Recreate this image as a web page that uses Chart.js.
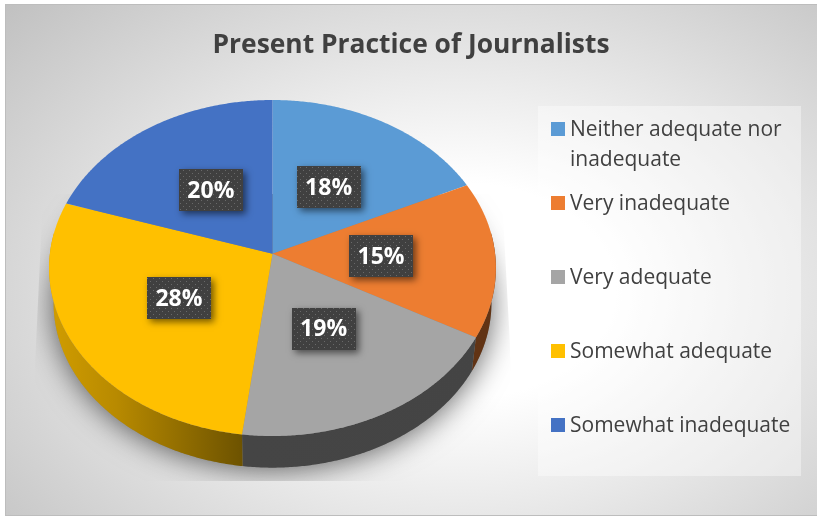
<!DOCTYPE html>
<html>
<head>
<meta charset="utf-8">
<title>Present Practice of Journalists</title>
<script src="https://cdn.jsdelivr.net/npm/chart.js@4"></script>
<style>
  html, body { margin: 0; padding: 0; background: #fff; }
  #card {
    position: absolute; left: 5px; top: 4px; width: 812px; height: 512px;
    box-sizing: border-box; overflow: hidden;
    border-left: 1.5px solid #bdbdbd; border-top: 1.5px solid #bdbdbd; border-bottom: 1.5px solid #bdbdbd;
    background: radial-gradient(ellipse 80% 88% at 56% 56%, #ffffff 0%, #ffffff 24%, #bcbcbc 100%);
  }
  canvas { position: absolute; left: -1.5px; top: -1.5px; }
</style>
</head>
<body>
<div id="card"><canvas id="chart" width="812" height="512"></canvas></div>
<script>
const titleText = 'Present Practice of Journalists';
const categories = ['Neither adequate nor inadequate', 'Very inadequate', 'Very adequate', 'Somewhat adequate', 'Somewhat inadequate'];
const shares = [18, 15, 19, 28, 20];
const sliceColors = ['#5B9BD5', '#ED7D31', '#A5A5A5', '#FFC000', '#4472C4'];

const FONT = '"Open Sans", sans-serif';
const INK = '#404040';

// Tilted-disc projection: the flat pie circle is seen from above, in perspective.
const flatten = 0.752;      // vertical squash of the top face
const tilt = -0.085;        // how far the hub sits above the centre of the ellipse
const faceCentreX = 267.5;  // canvas x of the centre of the top-face ellipse
const faceCentreY = 264;    // canvas y of the centre of the top-face ellipse
const wallDrop = 35;        // height of the rim wall
const wallShrink = 0.98;    // the lower rim is slightly further from the viewer

function project(el, angle, frac) {
  const u = Math.cos(angle) * frac, v = Math.sin(angle) * frac;
  const d = 1 + tilt * v;
  const R = el.outerRadius;
  return {
    x: faceCentreX + R * u * Math.sqrt(1 - tilt * tilt) / d,
    y: faceCentreY + R * flatten * (v + tilt) / d
  };
}
function lowerRim(p) {
  return { x: faceCentreX + (p.x - faceCentreX) * wallShrink, y: faceCentreY + (p.y - faceCentreY) * wallShrink + wallDrop };
}
function shade(hex, k) {
  const n = parseInt(hex.slice(1), 16);
  return `rgb(${Math.round((n >> 16 & 255) * k)},${Math.round((n >> 8 & 255) * k)},${Math.round((n & 255) * k)})`;
}

class Arc3D extends Chart.ArcElement {
  draw(ctx) {
    const color = this.options.backgroundColor;
    const step = Math.PI / 360;
    const R = this.outerRadius;
    // rim wall, only where the slice faces the viewer
    const a0 = Math.max(this.startAngle, -0.04 * Math.PI);
    const a1 = Math.min(this.endAngle, 1.04 * Math.PI);
    if (a1 > a0) {
      const top = [], bottom = [];
      for (let a = a0; a < a1; a += step) top.push(project(this, a, 1));
      top.push(project(this, a1, 1));
      top.forEach(p => bottom.push(lowerRim(p)));
      const g = ctx.createLinearGradient(faceCentreX - R, 0, faceCentreX + R, 0);
      g.addColorStop(0, shade(color, 0.82));
      g.addColorStop(0.15, shade(color, 0.72));
      g.addColorStop(0.44, shade(color, 0.42));
      g.addColorStop(1, shade(color, 0.41));
      ctx.beginPath();
      top.forEach((p, i) => i ? ctx.lineTo(p.x, p.y) : ctx.moveTo(p.x, p.y));
      bottom.reverse().forEach(p => ctx.lineTo(p.x, p.y));
      ctx.closePath();
      ctx.fillStyle = g;
      ctx.fill();
    }
    // top face
    const hub = project(this, 0, 0);
    ctx.beginPath();
    ctx.moveTo(hub.x, hub.y);
    for (let a = this.startAngle; a < this.endAngle; a += step) {
      const p = project(this, a, 1);
      ctx.lineTo(p.x, p.y);
    }
    const last = project(this, this.endAngle, 1);
    ctx.lineTo(last.x, last.y);
    ctx.closePath();
    ctx.fillStyle = color;
    ctx.fill();
  }
}
Arc3D.id = 'arc3d';

class Pie3DController extends Chart.PieController {}
Pie3DController.id = 'pie3d';
Pie3DController.defaults = { dataElementType: 'arc3d' };
Chart.register(Arc3D, Pie3DController);

// Soft floor shadow, clipped to the shape of the chart's floor plane.
const floorShadow = {
  id: 'floorShadow',
  beforeDatasetsDraw(chart) {
    const el = chart.getDatasetMeta(0).data[0];
    const ctx = chart.ctx;
    const R = el.outerRadius;
    const cx = faceCentreX;
    ctx.save();
    ctx.beginPath();
    ctx.moveTo(cx - R - 6, 190);
    ctx.lineTo(cx - R - 14, 360);
    ctx.lineTo(cx - R - 14, 477);
    ctx.lineTo(cx + R + 16, 477);
    ctx.lineTo(cx + R + 14, 340);
    ctx.lineTo(cx + R + 6, 190);
    ctx.closePath();
    ctx.clip();
    ctx.shadowColor = 'rgba(0,0,0,0.62)';
    ctx.shadowBlur = 30;
    ctx.shadowOffsetX = 0;
    ctx.shadowOffsetY = 2;
    ctx.fillStyle = '#888';
    ctx.beginPath();
    ctx.ellipse(cx, faceCentreY + wallDrop, R * wallShrink, R * flatten * wallShrink, 0, 0, Math.PI * 2);
    ctx.fill();
    ctx.restore();
  }
};

// Boxed percentage labels placed inside each slice.
const sliceLabels = {
  id: 'sliceLabels',
  afterDatasetsDraw(chart) {
    const ctx = chart.ctx;
    const tile = document.createElement('canvas');
    tile.width = tile.height = 6;
    const t = tile.getContext('2d');
    t.fillStyle = '#404040';
    t.fillRect(0, 0, 6, 6);
    t.fillStyle = '#696969';
    t.fillRect(1, 1, 1, 1);
    t.fillRect(4, 4, 1, 1);
    const dots = ctx.createPattern(tile, 'repeat');
    chart.getDatasetMeta(0).data.forEach((el, i) => {
      const mid = (el.startAngle + el.endAngle) / 2;
      const c = project(el, mid, 0.487);
      const w = 64, h = 42;
      const x = Math.round(c.x - w / 2), y = Math.round(c.y - h / 2);
      ctx.save();
      ctx.shadowColor = 'rgba(0,0,0,0.55)';
      ctx.shadowBlur = 7;
      ctx.shadowOffsetX = 3;
      ctx.shadowOffsetY = 3;
      ctx.fillStyle = '#404040';
      ctx.fillRect(x, y, w, h);
      ctx.restore();
      ctx.fillStyle = dots;
      ctx.fillRect(x, y, w, h);
      ctx.fillStyle = '#fff';
      ctx.font = `bold 23px ${FONT}`;
      ctx.textAlign = 'center';
      ctx.textBaseline = 'middle';
      ctx.fillText(shares[i] + '%', c.x, c.y + 1);
    });
  }
};

// Right-hand legend panel with wrapped entries.
const sideLegend = {
  id: 'sideLegend',
  afterDraw(chart) {
    const ctx = chart.ctx;
    const panel = { x: 533, y: 102, w: 263, h: 370 };
    ctx.save();
    ctx.fillStyle = 'rgba(255,255,255,0.39)';
    ctx.fillRect(panel.x, panel.y, panel.w, panel.h);
    ctx.font = `21px ${FONT}`;
    ctx.textAlign = 'left';
    ctx.textBaseline = 'alphabetic';
    const maxWidth = panel.w - 32;
    categories.forEach((name, i) => {
      const top = panel.y + 16 + i * 74;
      ctx.fillStyle = sliceColors[i];
      ctx.fillRect(panel.x + 13, top, 14, 14);
      const lines = [];
      let line = '';
      name.split(' ').forEach(word => {
        const next = line ? line + ' ' + word : word;
        if (ctx.measureText(next).width > maxWidth) { lines.push(line); line = word; } else line = next;
      });
      lines.push(line);
      ctx.fillStyle = INK;
      lines.forEach((l, k) => ctx.fillText(l, panel.x + 32, top + 14 + k * 30));
    });
    ctx.restore();
  }
};

new Chart(document.getElementById('chart'), {
  type: 'pie3d',
  data: {
    labels: categories,
    datasets: [{ data: shares, backgroundColor: sliceColors, borderWidth: 0 }]
  },
  options: {
    responsive: false,
    animation: false,
    events: [],
    layout: { padding: { bottom: 4.6 } },
    plugins: {
      legend: { display: false },
      tooltip: { enabled: false },
      title: {
        display: true,
        text: titleText,
        color: INK,
        font: { family: FONT, size: 26.4, weight: 'bold', lineHeight: 1.2 },
        padding: { top: 26, bottom: 2.9 }
      }
    }
  },
  plugins: [floorShadow, sliceLabels, sideLegend]
});
</script>
</body>
</html>
